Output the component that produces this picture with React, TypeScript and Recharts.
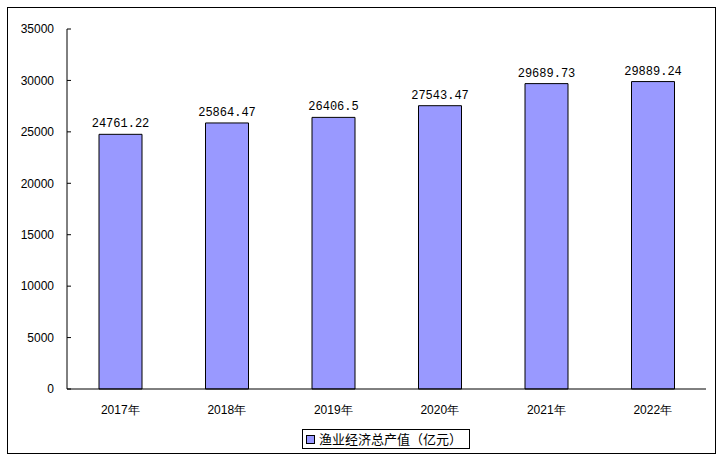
import React from 'react';
import { BarChart, Bar, XAxis, YAxis, LabelList, Legend } from 'recharts';

const categories = ['2017年', '2018年', '2019年', '2020年', '2021年', '2022年'];
const values = [24761.22, 25864.47, 26406.5, 27543.47, 29689.73, 29889.24];
const valueLabels = ['24761.22', '25864.47', '26406.5', '27543.47', '29689.73', '29889.24'];
const yTicks = [0, 5000, 10000, 15000, 20000, 25000, 30000, 35000];
const boundaryTicks = [0, 1, 2, 3, 4, 5, 6];
const seriesName = '渔业经济总产值（亿元）';

const data = categories.map((c, i) => ({ name: c, value: values[i], label: valueLabels[i], pos: i + 0.5 }));

const sansFont = '"Liberation Sans", Arial, sans-serif';
const monoFont = '"Liberation Mono", "DejaVu Sans Mono", monospace';

const LegendContent = () => (
  <div
    style={{
      border: '1px solid #000',
      height: 20,
      width: 168,
      display: 'flex',
      alignItems: 'center',
      boxSizing: 'border-box',
      paddingLeft: 3,
      fontFamily: '"Noto Sans CJK SC", sans-serif',
      fontSize: 13,
      color: '#000',
      background: '#fff',
    }}
  >
    <span
      style={{
        display: 'inline-block',
        width: 7,
        height: 7,
        background: '#9999FF',
        border: '1px solid #000',
        marginRight: 4,
      }}
    />
    <span style={{ lineHeight: '18px' }}>{seriesName}</span>
  </div>
);

export default function App() {
  return (
    <div style={{ position: 'absolute', left: 0, top: 0, width: 720, height: 462, background: '#fff' }}>
      <div
        style={{
          position: 'absolute',
          left: 7,
          top: 7,
          width: 709,
          height: 447,
          border: '1px solid #000',
          boxSizing: 'border-box',
        }}
      />
      <BarChart
        width={720}
        height={462}
        data={data}
        margin={{ top: 29, right: 14, left: 7, bottom: 23 }}
        barCategoryGap="0%"
        style={{ position: 'absolute', left: 0, top: 0 }}
      >
        <XAxis
          xAxisId="bound"
          type="number"
          dataKey="pos"
          domain={[0, 6]}
          ticks={boundaryTicks}
          height={0}
          axisLine={false}
          tick={false}
          tickSize={-4}
          tickLine={{ stroke: '#000' }}
        />
        <XAxis
          dataKey="name"
          xAxisId="cat"
          height={30}
          tickLine={false}
          axisLine={{ stroke: '#000', strokeWidth: 1 }}
          tickMargin={10}
          tick={{ fill: '#000', fontSize: 12, fontFamily: sansFont }}
          interval={0}
        />
        <YAxis
          domain={[0, 35000]}
          ticks={yTicks}
          width={60}
          tickSize={-4}
          tickMargin={17}
          axisLine={{ stroke: '#000' }}
          tickLine={{ stroke: '#000' }}
          tick={{ fill: '#000', fontSize: 12, fontFamily: sansFont }}
          interval={0}
        />
        <Legend
          content={<LegendContent />}
          wrapperStyle={{ position: 'absolute', left: 302, top: 429, width: 168, height: 20 }}
        />
        <Bar
          dataKey="value"
          xAxisId="cat"
          name={seriesName}
          fill="#9999FF"
          stroke="#000"
          strokeWidth={1}
          barSize={43}
          isAnimationActive={false}
        >
          <LabelList
            dataKey="label"
            position="top"
            offset={7}
            style={{ fill: '#000', fontSize: 12, fontFamily: monoFont }}
          />
        </Bar>
      </BarChart>
    </div>
  );
}
